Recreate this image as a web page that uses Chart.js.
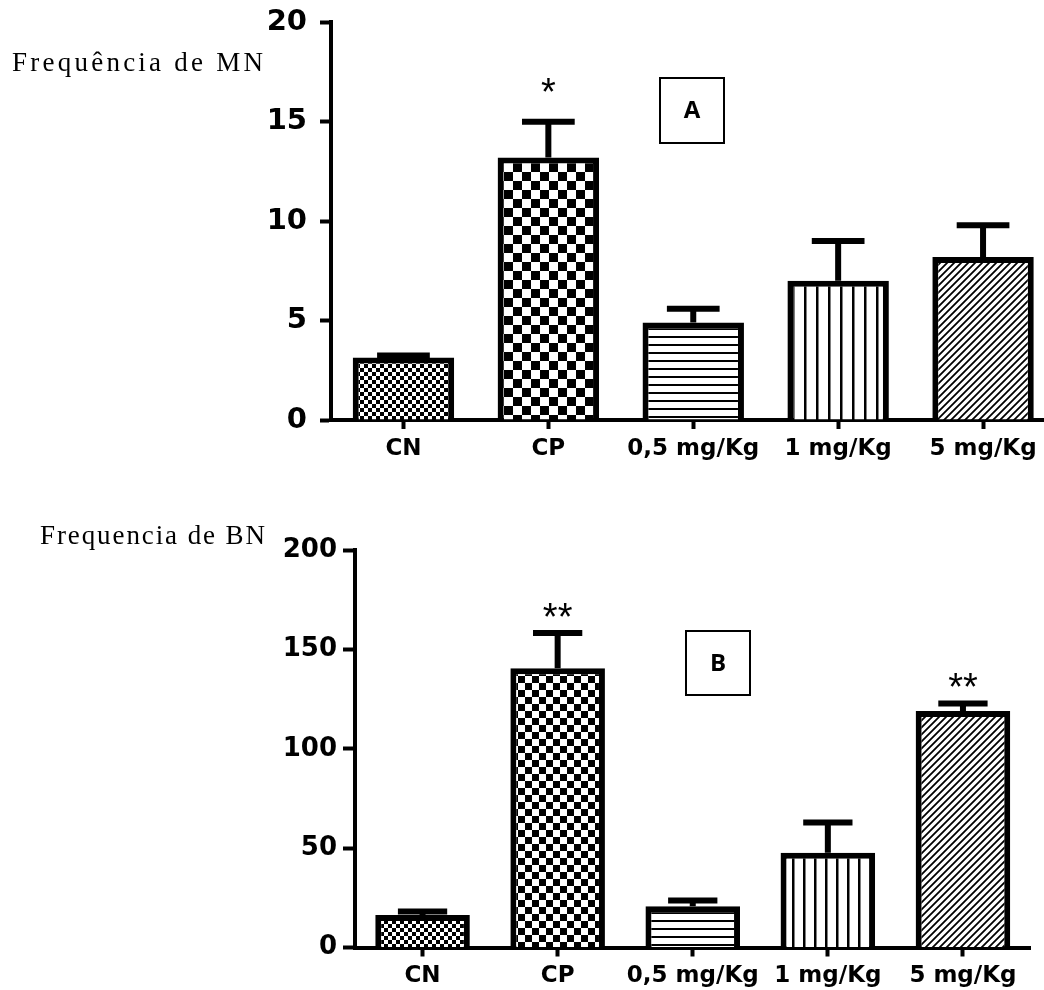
<!DOCTYPE html>
<html lang="pt">
<head>
<meta charset="UTF-8">
<title>Frequência de MN e BN</title>
<script src="https://cdn.jsdelivr.net/npm/chart.js"></script>
<style>
  html, body { margin: 0; padding: 0; background: #fff; overflow: hidden; width: 1044px; height: 990px; }
  canvas { position: absolute; left: 0; }
</style>
</head>
<body>
<canvas id="graficoA" width="1062" height="488" style="top:-8px"></canvas>
<canvas id="graficoB" width="1044" height="510" style="top:480px"></canvas>
<script>
// dados
const categorias = ['CN', 'CP', '0,5 mg/Kg', '1 mg/Kg', '5 mg/Kg'];

const mnMedias = [3.15, 13.2, 4.9, 7.0, 8.2];
const mnErros  = [0.1, 1.8, 0.7, 2.0, 1.6];
const mnSignif = ['', '*', '', '', ''];
const mnTicks  = [0, 5, 10, 15, 20];

const bnMedias = [16.3, 140.5, 20.8, 47.7, 119];
const bnErros  = [1.8, 17.7, 2.8, 15.2, 3.8];
const bnSignif = ['', '**', '', '', '**'];
const bnTicks  = [0, 50, 100, 150, 200];

// texturas das barras
function textura(tipo, s) {
  const c = document.createElement('canvas');
  const g = c.getContext('2d');
  if (tipo === 'xadrez') {
    c.width = c.height = 2 * s;
    g.fillStyle = '#fff'; g.fillRect(0, 0, 2 * s, 2 * s);
    g.fillStyle = '#000'; g.fillRect(0, 0, s, s); g.fillRect(s, s, s, s);
  } else if (tipo === 'horiz') {
    c.width = 4; c.height = s;
    g.fillStyle = '#fff'; g.fillRect(0, 0, 4, s);
    g.fillStyle = '#000'; g.fillRect(0, 0, 4, 2);
  } else if (tipo === 'vert') {
    c.width = s; c.height = 4;
    g.fillStyle = '#fff'; g.fillRect(0, 0, s, 4);
    g.fillStyle = '#000'; g.fillRect(0, 0, 2.5, 4);
  } else {
    c.width = c.height = s;
    g.fillStyle = '#fff'; g.fillRect(0, 0, s, s);
    g.strokeStyle = '#000'; g.lineWidth = 1.8;
    g.beginPath();
    g.moveTo(-1, s + 1); g.lineTo(s + 1, -1);
    g.moveTo(-1, 1); g.lineTo(1, -1);
    g.moveTo(s - 1, s + 1); g.lineTo(s + 1, s - 1);
    g.stroke();
  }
  return g.createPattern(c, 'repeat');
}

const extras = {
  id: 'extras',
  afterDatasetsDraw(chart, args, o) {
    const ctx = chart.ctx;
    const y = chart.scales.y;
    const meta = chart.getDatasetMeta(0);
    ctx.save();
    ctx.strokeStyle = '#000';
    ctx.fillStyle = '#000';
    ctx.lineWidth = 6;
    meta.data.forEach((bar, i) => {
      const topo = y.getPixelForValue(o.medias[i] + o.erros[i]);
      const meio = bar.width / 4 + 1;
      ctx.beginPath();
      ctx.moveTo(bar.x, bar.y); ctx.lineTo(bar.x, topo);
      ctx.moveTo(bar.x - meio, topo); ctx.lineTo(bar.x + meio, topo);
      ctx.stroke();
      if (o.signif[i]) {
        ctx.font = '38px "Liberation Sans"';
        ctx.textAlign = 'center';
        ctx.textBaseline = 'alphabetic';
        ctx.fillText(o.signif[i], bar.x, topo - o.distEstrela + 22);
      }
    });

    // titulo do eixo y (horizontal, no canto)
    ctx.font = '27px "Liberation Serif"';
    ctx.textAlign = 'left';
    ctx.textBaseline = 'alphabetic';
    const w = ctx.measureText(o.titulo).width;
    ctx.letterSpacing = ((o.tituloW - w) / (o.titulo.length - 1)) + 'px';
    ctx.fillText(o.titulo, o.tituloX, o.tituloY);
    ctx.letterSpacing = '0px';

    // caixa com a letra
    const [bx, by, bw, bh] = o.caixa;
    ctx.lineWidth = 2;
    ctx.strokeRect(bx, by, bw, bh);
    ctx.font = 'bold 24px "Open Sans"';
    ctx.textAlign = 'center';
    ctx.textBaseline = 'middle';
    ctx.fillText(o.letra, bx + bw / 2, by + bh / 2 + 1);
    ctx.restore();
  }
};

function crearGrafico(id, medias, erros, signif, ticks, o) {
  const fundos = [
    textura('xadrez', 4),
    textura('xadrez', o.xadrez),
    textura('horiz', 8),
    textura('vert', o.vert),
    textura('diag', 7)
  ];
  return new Chart(document.getElementById(id), {
    type: 'bar',
    data: {
      labels: categorias,
      datasets: [{
        data: medias,
        backgroundColor: fundos,
        borderColor: '#000',
        borderWidth: 6,
        categoryPercentage: 1,
        barPercentage: 0.7
      }]
    },
    options: {
      responsive: false,
      animation: false,
      devicePixelRatio: 1,
      layout: { padding: { top: o.padTop, right: o.padRight, left: 0, bottom: 0 } },
      plugins: {
        legend: { display: false },
        tooltip: { enabled: false },
        extras: {
          medias: medias, erros: erros, signif: signif,
          distEstrela: o.distEstrela,
          titulo: o.titulo, tituloX: o.tituloX, tituloY: o.tituloY, tituloW: o.tituloW,
          caixa: o.caixa, letra: o.letra
        }
      },
      scales: {
        x: {
          offset: true,
          grid: { drawOnChartArea: false, drawTicks: true, tickLength: 9, tickWidth: 4, tickColor: '#000', offset: false },
          border: { color: '#000', width: 4 },
          ticks: {
            color: '#000', padding: 6, maxRotation: 0, autoSkip: false,
            font: { family: 'DejaVu Sans', weight: 'bold', size: 23 }
          },
          afterFit(s) { s.height = o.xAlto; }
        },
        y: {
          min: ticks[0],
          max: ticks[ticks.length - 1],
          afterBuildTicks(s) { s.ticks = ticks.map(v => ({ value: v })); },
          grid: { drawOnChartArea: false, tickLength: o.tickLen, tickWidth: 4, tickColor: '#000' },
          border: { color: '#000', width: 4 },
          ticks: {
            color: '#000', padding: o.yPad,
            font: { family: 'DejaVu Sans', weight: 'bold', size: o.yFonte }
          },
          afterFit(s) { s.width = o.yLargura; }
        }
      }
    },
    plugins: [extras]
  });
}

// canvas A deslocado 8px para cima
crearGrafico('graficoA', mnMedias, mnErros, mnSignif, mnTicks, {
  padTop: 26, padRight: 6.5, xAlto: 60, yLargura: 331,
  tickLen: 11, yPad: 13, yFonte: 29,
  xadrez: 9, vert: 12, distEstrela: 39,
  titulo: 'Frequência de MN', tituloX: 12, tituloY: 79, tituloW: 251,
  caixa: [660, 86, 64, 65], letra: 'A'
});

crearGrafico('graficoB', bnMedias, bnErros, bnSignif, bnTicks, {
  padTop: 70, padRight: 13.5, xAlto: 42.5, yLargura: 355,
  tickLen: 12, yPad: 6, yFonte: 26,
  xadrez: 7, vert: 11, distEstrela: 25,
  titulo: 'Frequencia de BN', tituloX: 40, tituloY: 64, tituloW: 225,
  caixa: [686, 151, 64, 64], letra: 'B'
});
</script>
</body>
</html>
